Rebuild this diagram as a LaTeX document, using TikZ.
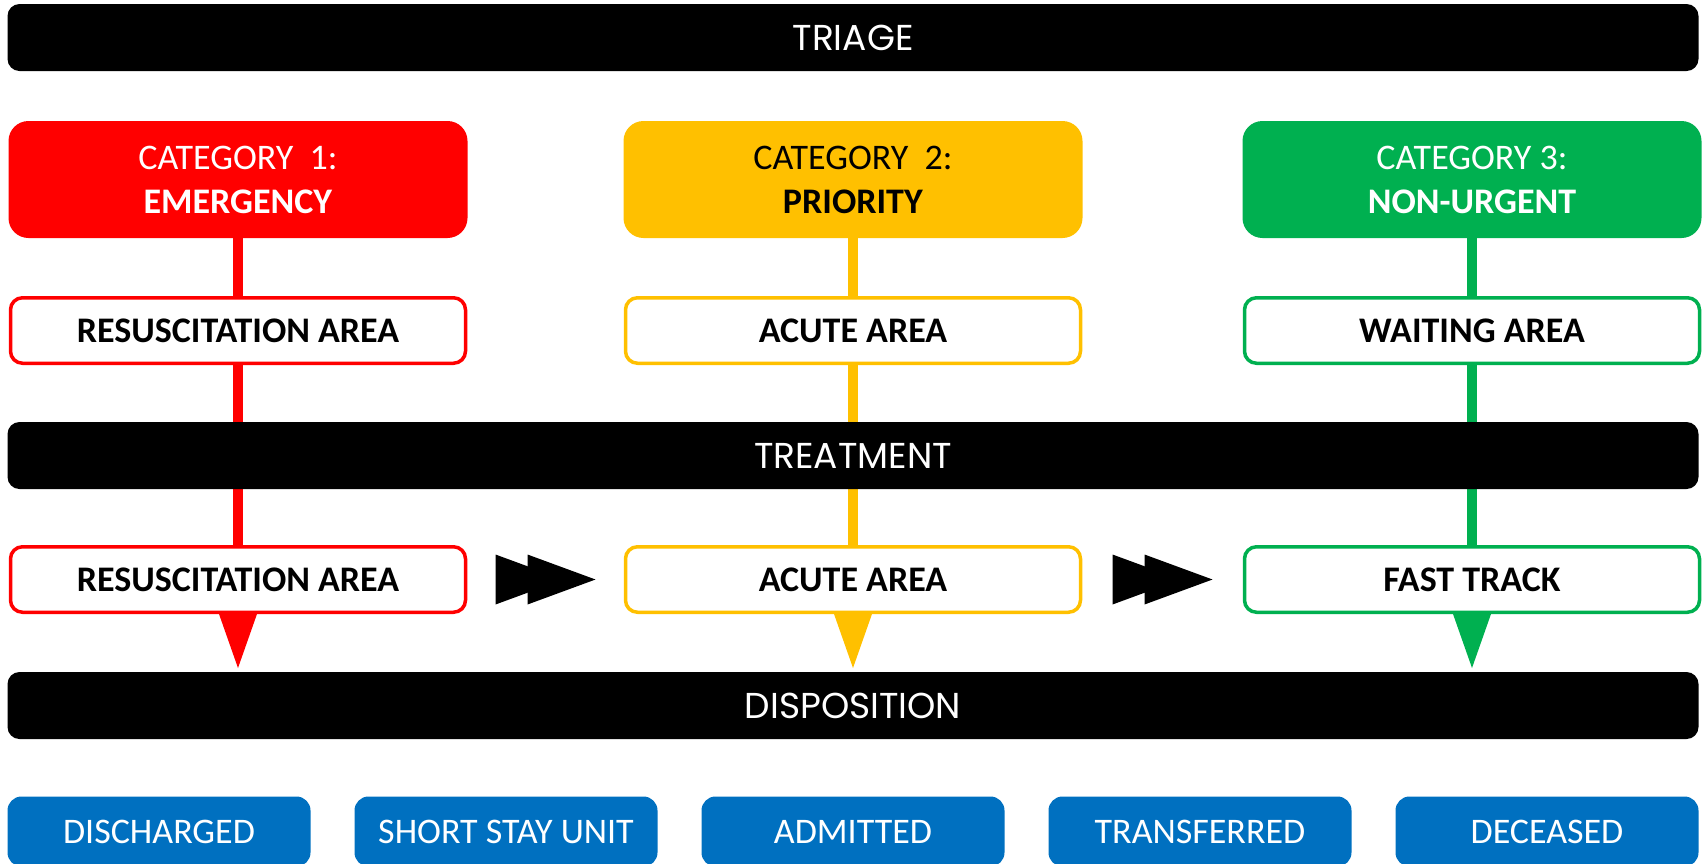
\documentclass[tikz,border=0pt]{standalone}
\usepackage{fontspec}
\setmainfont{Carlito}
\newfontfamily\geofont{Poppins}
\usetikzlibrary{calc,backgrounds}
\definecolor{catred}{HTML}{FF0000}
\definecolor{catamber}{HTML}{FFC000}
\definecolor{catgreen}{HTML}{00B050}
\definecolor{outblue}{HTML}{0070C0}
\begin{document}
\begin{tikzpicture}[x=1pt,y=-1pt,
	every node/.style={inner sep=0pt,font=\fontsize{36}{44}\selectfont},
	bar/.style={fill=black,text=white,rounded corners=12pt,minimum width=1691pt,minimum height=67pt,font=\geofont\fontsize{36}{44}\selectfont},
	cat/.style={fill=#1,rounded corners=20pt,minimum width=459pt,minimum height=117pt,align=center},
	area/.style={draw=#1,fill=white,line width=3.5pt,rounded corners=12pt,minimum width=455pt,minimum height=65.5pt,font=\fontsize{36}{44}\selectfont\bfseries},
	outc/.style={fill=outblue,text=white,rounded corners=14pt,minimum width=303pt,minimum height=70pt},
	vline/.style={#1,line width=10pt},
	fwd/.style={fill=black}]
		\useasboundingbox (0,0) rectangle (1706,863);
		\node [bar] (triage) at (853,37.5) {TRIAGE};
		\node [cat=catred,text=white] (cat1) at (238,179.5) {CATEGORY\ \ 1:\\\textbf{EMERGENCY}};
		\node [cat=catamber,text=black] (cat2) at (853,179.5) {CATEGORY\ \ 2:\\\textbf{PRIORITY}};
		\node [cat=catgreen,text=white] (cat3) at (1472,179.5) {CATEGORY 3:\\\textbf{NON-URGENT}};
		\node [area=catred] (res1) at (238,330.5) {RESUSCITATION AREA};
		\node [area=catamber] (acu1) at (853,330.5) {ACUTE AREA};
		\node [area=catgreen] (wait1) at (1472,330.5) {WAITING AREA};
		\node [bar] (treat) at (853,455.5) {TREATMENT};
		\node [area=catred] (res2) at (238,579.5) {RESUSCITATION AREA};
		\node [area=catamber] (acu2) at (853,579.5) {ACUTE AREA};
		\node [area=catgreen] (fast2) at (1472,579.5) {FAST TRACK};
		\node [bar] (disp) at (853,705.5) {DISPOSITION};
		\foreach \x/\t [count=\i] in {159/DISCHARGED,506/SHORT STAY UNIT,853/ADMITTED,1200/TRANSFERRED,1547/DECEASED}
			\node [outc] (out\i) at (\x,831.5) {\t};
		\begin{pgfonlayer}{background}
			\draw [vline=catred] (cat1.south) -- (res2.north);
			\draw [vline=catamber] (cat2.south) -- (acu2.north);
			\draw [vline=catgreen] (cat3.south) -- (fast2.north);
		\end{pgfonlayer}
		\coordinate (tip1) at ($(res2.south)+(0,54)$);
		\coordinate (tip2) at ($(acu2.south)+(0,54)$);
		\coordinate (tip3) at ($(fast2.south)+(0,54)$);
		\fill [catred] ([xshift=-19pt]res2.south) -- ([xshift=19pt]res2.south) -- (tip1) -- cycle;
		\fill [catamber] ([xshift=-19pt]acu2.south) -- ([xshift=19pt]acu2.south) -- (tip2) -- cycle;
		\fill [catgreen] ([xshift=-19pt]fast2.south) -- ([xshift=19pt]fast2.south) -- (tip3) -- cycle;
		\coordinate (m1) at ($(res2.east)!0.5!(acu2.west)$);
		\coordinate (m2) at ($(acu2.east)!0.5!(fast2.west)$);
		\foreach \m in {m1,m2} {
			\fill [fwd] ($(\m)+(-50,-25)$) -- ($(\m)+(18,0)$) -- ($(\m)+(-50,25)$) -- cycle;
			\fill [fwd] ($(\m)+(-18,-25)$) -- ($(\m)+(50,0)$) -- ($(\m)+(-18,25)$) -- cycle;
		}
	\end{tikzpicture}
\end{document}
